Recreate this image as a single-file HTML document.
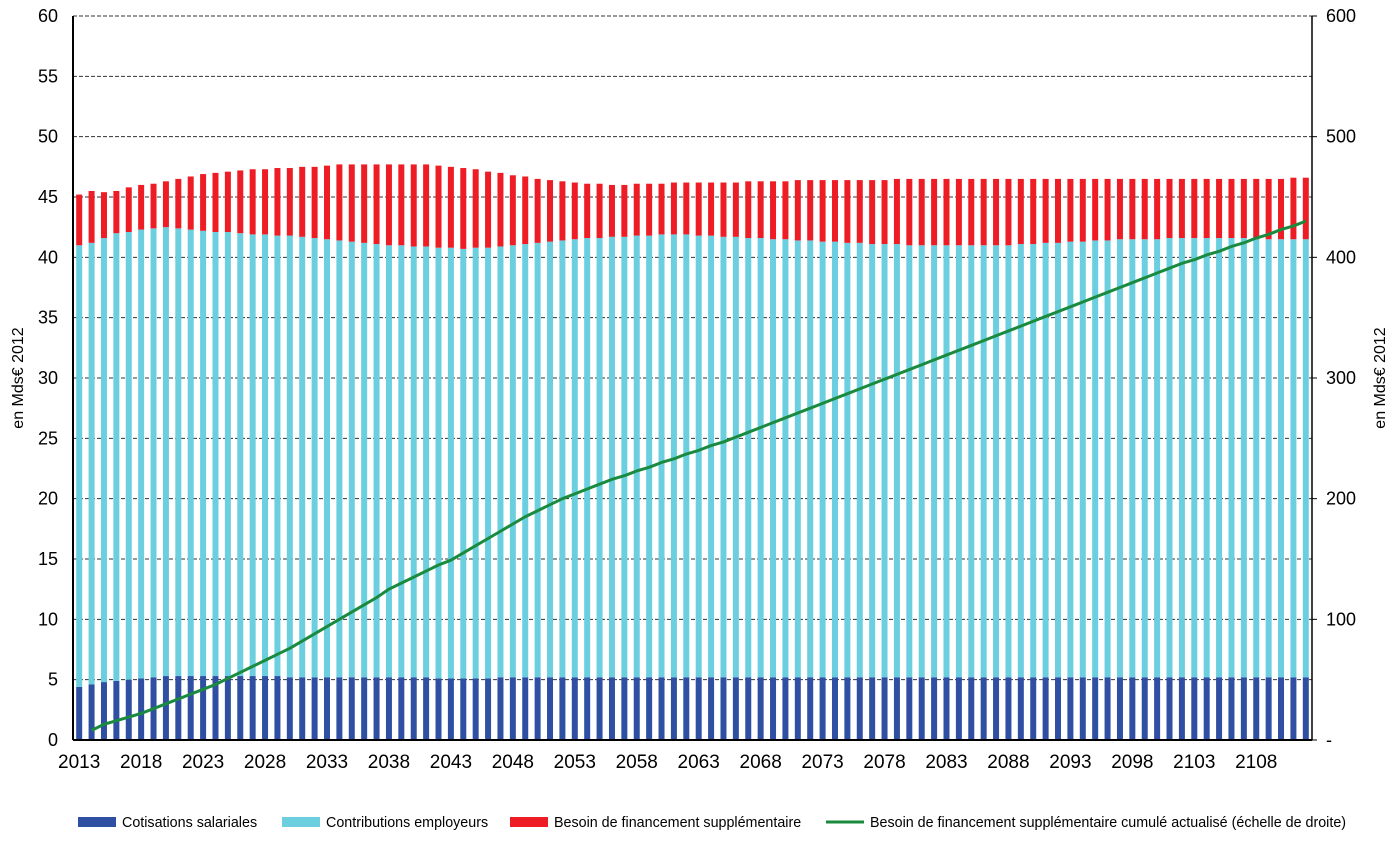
<!DOCTYPE html>
<html><head><meta charset="utf-8"><style>
body{margin:0;background:#fff;width:1395px;height:840px;overflow:hidden;font-family:"Liberation Sans",sans-serif}
svg text{font-family:"Liberation Sans",sans-serif}
</style></head><body>
<svg id="chart" width="1395" height="840"></svg>
<script>
const years=[];for(let y=2013;y<=2112;y++)years.push(y);
const cotisations=[4.4,4.6,4.8,4.9,5.0,5.1,5.2,5.3,5.3,5.3, 5.3,5.3,5.3,5.3,5.3,5.3,5.3,5.2,5.2,5.2, 5.2,5.2,5.2,5.2,5.2,5.2,5.2,5.2,5.2,5.1, 5.1,5.1,5.1,5.1,5.2,5.2,5.2,5.2,5.2,5.2,
5.2,5.2,5.2,5.2,5.2,5.2,5.2,5.2,5.2,5.2, 5.2,5.2,5.2,5.2,5.2,5.2,5.2,5.2,5.2,5.2, 5.2,5.2,5.2,5.2,5.2,5.2,5.2,5.2,5.2,5.2, 5.2,5.2,5.2,5.2,5.2,5.2,5.2,5.2,5.2,5.2, 5.2,5.2,5.2,5.2,5.2,5.2,5.2,5.2,5.2,5.2, 5.2,5.2,5.2,5.2,5.2,5.2,5.2,5.2,5.2,5.2];
const contributions=[36.6,36.6,36.8,37.1,37.1,37.2,37.2,37.2,37.1,37.0,
36.9,36.8,36.8,36.7,36.6,36.6,36.5,36.6,36.5,36.4,
36.3,36.2,36.1,36.0,35.9,35.8,35.8,35.7,35.7,35.7,
35.7,35.6,35.7,35.7,35.7,35.8,35.9,36.0,36.1,36.2,
36.3,36.4,36.4,36.5,36.5,36.6,36.6,36.7,36.7,36.7,
36.6,36.6,36.5,36.5,36.4,36.4,36.3,36.3,36.2,36.2,
36.1,36.1,36.0,36.0,35.9,35.9,35.9,35.8,35.8,35.8,
35.8,35.8,35.8,35.8,35.8,35.8,35.9,35.9,36.0,36.0,
36.1,36.1,36.2,36.2,36.3,36.3,36.3,36.3,36.4,36.4,
36.4,36.4,36.4,36.4,36.4,36.3,36.3,36.3,36.3,36.3];
const besoin=[4.2,4.3,3.8,3.5,3.7,3.7,3.7,3.8,4.1,4.4,
4.7,4.9,5.0,5.2,5.4,5.4,5.6,5.6,5.8,5.9,
6.1,6.3,6.4,6.5,6.6,6.7,6.7,6.8,6.8,6.8,
6.7,6.7,6.5,6.3,6.1,5.8,5.6,5.3,5.1,4.9,
4.7,4.5,4.5,4.3,4.3,4.3,4.3,4.2,4.3,4.3,
4.4,4.4,4.5,4.5,4.7,4.7,4.8,4.8,5.0,5.0,
5.1,5.1,5.2,5.2,5.3,5.3,5.4,5.5,5.5,5.5,
5.5,5.5,5.5,5.5,5.5,5.5,5.4,5.4,5.3,5.3,
5.2,5.2,5.1,5.1,5.0,5.0,5.0,5.0,4.9,4.9,
4.9,4.9,4.9,4.9,4.9,5.0,5.0,5.0,5.1,5.1];
const cumulYears=years.slice(1);
const cumul=[8,13,16,19,22,26,30,34,38,42,46,51,56,61,66,71,76,82,88,94,100,106,112,118,125,130,135,140,145,149,
155,161,167,173,179,185,190,195,200,204,208,212,216,219,223,226,230,233,237,240,244,247,251,255,259,263,267,271,275,279,283,287,291,295,299,303,307,311,315,319,323,327,331,335,339,343,347,351,355,359,363,367,371,375,379,383,387,391,395,398,402,405,409,412,416,419,423,426,430];
const leftTicks=[0,5,10,15,20,25,30,35,40,45,50,55,60];
const rightTicks=["-","100","200","300","400","500","600"];
const xLabels=[2013,2018,2023,2028,2033,2038,2043,2048,2053,2058,2063,2068,2073,2078,2083,2088,2093,2098,2103,2108];

const NS="http://www.w3.org/2000/svg";const svg=document.getElementById('chart');
const X0=73,X1=1312,Y0=740,Y1=16;
const step=(X1-X0)/100;
const xc=y=>X0+(y-2013+0.5)*step;
const yL=v=>Y0-(v/60)*(Y0-Y1);
const yR=v=>Y0-(v/600)*(Y0-Y1);
function el(t,a,p){const e=document.createElementNS(NS,t);for(const k in a)e.setAttribute(k,a[k]);(p||svg).appendChild(e);return e;}
leftTicks.forEach(v=>{if(v===0)return;
const g=el('line',{x1:X0,x2:X1,y1:yL(v),y2:yL(v),stroke:'#333','stroke-width':1,'stroke-dasharray':'4,2'});


const t=el('text',{x:58,y:yL(v)+6,'text-anchor':'end','font-size':18,fill:'#000'});t.textContent=v;

});
const t0=el('text',{x:58,y:yL(0)+6,'text-anchor':'end','font-size':18});t0.textContent='0';


rightTicks.forEach((s,i)=>{const y=yR(i*100);
const t=el('text',{x:1326,y:y+6,'font-size':18});t.textContent=s;


const tk=el('line',{x1:X1,x2:X1+5,y1:y,y2:y,stroke:'#000'});

});
const bw=6;
years.forEach((yr,i)=>{const x=xc(yr)-bw/2;
const a=cotisations[i],b=contributions[i],c=besoin[i];
const r1=el('rect',{x:x,y:yL(a),width:bw,height:yL(0)-yL(a),fill:'#2f4fa3'});


const r2=el('rect',{x:x,y:yL(a+b),width:bw,height:yL(a)-yL(a+b),fill:'#6bcfdf'});


const r3=el('rect',{x:x,y:yL(a+b+c),width:bw,height:yL(a+b)-yL(a+b+c),fill:'#ee1c24'});

});
const pts=cumulYears.map((y,i)=>xc(y)+','+yR(cumul[i])).join(' ');
const pl=el('polyline',{points:pts,fill:'none',stroke:'#1a8a3e','stroke-width':3,'stroke-linejoin':'round'});


const ax=el('line',{x1:X0,x2:X0,y1:Y1,y2:Y0,stroke:'#000','stroke-width':2});


const ax2=el('line',{x1:X1,x2:X1,y1:Y1,y2:Y0,stroke:'#000','stroke-width':1.5});


const ax3=el('line',{x1:X0,x2:X1,y1:Y0,y2:Y0,stroke:'#000','stroke-width':2});


xLabels.forEach(yr=>{const t=el('text',{x:xc(yr),y:768,'text-anchor':'middle','font-size':19});t.textContent=yr;

});
const yt=el('text',{x:0,y:0,transform:'translate(23,378) rotate(-90)','text-anchor':'middle','font-size':16});yt.textContent='en Mds€ 2012';


const yt2=el('text',{x:0,y:0,transform:'translate(1385,378) rotate(-90)','text-anchor':'middle','font-size':16});yt2.textContent='en Mds€ 2012';


const leg=[['rect','#2f4fa3',78,'Cotisations salariales'],['rect','#6bcfdf',282,'Contributions employeurs'],['rect','#ee1c24',510,'Besoin de financement supplémentaire'],['line','#1a8a3e',826,'Besoin de financement supplémentaire cumulé actualisé (échelle de droite)']];
leg.forEach(l=>{let m;
if(l[0]==='rect')m=el('rect',{x:l[2],y:817,width:38,height:10,fill:l[1]});
else m=el('line',{x1:l[2],x2:l[2]+38,y1:822,y2:822,stroke:l[1],'stroke-width':3});


const t=el('text',{x:l[2]+44,y:827,'font-size':14.3});t.textContent=l[3];

});
</script>
</body></html>
